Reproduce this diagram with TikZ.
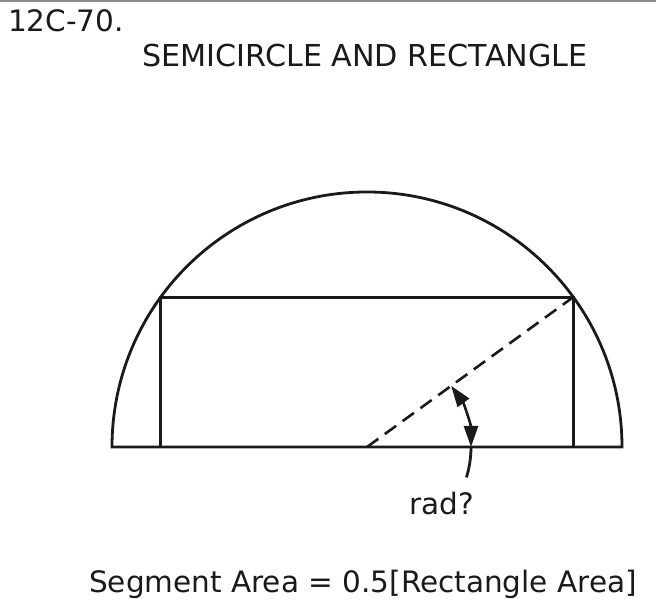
\documentclass[tikz,border=0pt]{standalone}
\usepackage{fontspec}
\setmainfont{DejaVu Sans}
\usepackage{tikz}
\usetikzlibrary{calc,arrows.meta}
\definecolor{ink}{HTML}{1A1A1A}
\definecolor{rulegray}{HTML}{8C8C8C}

\begin{document}
\begin{tikzpicture}[
    x=1pt, y=1pt,
    outline/.style={draw=ink, line width=2.8pt, line join=miter},
    guide/.style={draw=ink, line width=2.6pt, dash pattern=on 14pt off 8pt},
    flow/.style={{Triangle[length=21pt,width=14pt]}-{Triangle[length=21pt,width=14pt]}, draw=ink, line width=2.6pt},
    lbl/.style={font=\fontsize{29.5}{34}\selectfont, text=ink, inner sep=0pt},
  ]
  \useasboundingbox (0,0) rectangle (656,602);
  \draw[rulegray, line width=2pt] (0,600.5) -- (656,600.5);

  \coordinate (ctr) at (367,155);
  \coordinate (tr) at ($(ctr)+(36:255)$);
  \coordinate (tl) at ($(ctr)+(144:255)$);

  % half disc and the inscribed box
  \draw[outline] ($(ctr)+(-255,0)$) arc[start angle=180, end angle=0, radius=255] -- cycle;
  \draw[outline] (tl) rectangle (tr |- ctr);
  \draw[guide] (ctr) -- (tr);

  % angle mark, with its leader running on below the base
  \coordinate (tail) at ($(ctr)+(-17:104)$);
  \draw[outline] (tail) arc[start angle=-17, end angle=0, radius=104] coordinate (foot);
  \draw[flow] (foot) arc[start angle=0, end angle=36, radius=104];

  \node[lbl, anchor=base west] (num) at (8,570) {12C-70.};
  \node[lbl, anchor=base, font=\fontsize{30.2}{34}\selectfont] (title) at (365,535) {SEMICIRCLE AND RECTANGLE};
  \node[lbl, anchor=base] (rad) at (442,87) {rad?};
  \node[lbl, anchor=base] (eqn) at (363,9) {Segment Area = 0.5[Rectangle Area]};
\end{tikzpicture}
\end{document}
